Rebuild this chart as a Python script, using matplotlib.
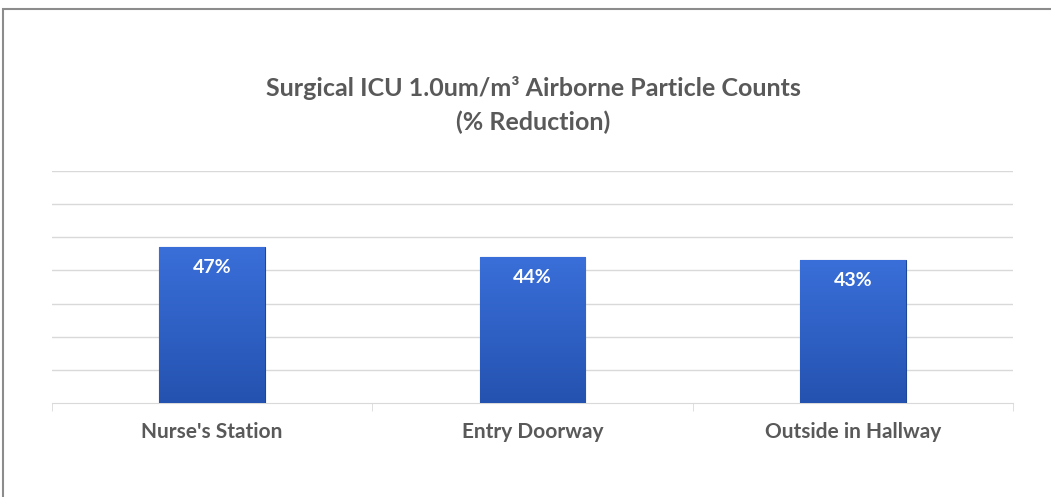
import numpy as np
import matplotlib.pyplot as plt
from matplotlib.colors import LinearSegmentedColormap
from matplotlib.patches import Rectangle

# values
locations = ["Nurse's Station", "Entry Doorway", "Outside in Hallway"]
reduction = [47, 44, 43]
bar_labels = ["47%", "44%", "43%"]

plt.rcParams['font.family'] = ['Lato', 'DejaVu Sans']

fig = plt.figure(figsize=(10.51, 4.97), dpi=100)
fig.patch.set_facecolor("white")

# outer chart frame
fig.add_artist(Rectangle((3 / 1051, -0.1), 1.2, 1 - 9 / 497 + 0.1,
                         transform=fig.transFigure, fill=False,
                         edgecolor="#8c8c8c", linewidth=1.5))

ax = fig.add_axes([52 / 1051, 1 - 403 / 497, (1013 - 52) / 1051, (403 - 171) / 497])
x = np.arange(len(locations))
bars = ax.bar(x, reduction, width=0.33, color="#2f62c8",
              edgecolor="#1e4596", linewidth=0.8, zorder=3)

# vertical gradient inside each bar
grad = LinearSegmentedColormap.from_list("bar", ["#2452b0", "#3a6fd9"])
img = np.linspace(0, 1, 256).reshape(-1, 1)
for b in bars:
    x0, w, h = b.get_x(), b.get_width(), b.get_height()
    im = ax.imshow(img, cmap=grad, origin="lower", aspect="auto",
                   extent=[x0, x0 + w, 0, h], zorder=3.5)
    im.set_clip_path(b)

for xi, v, lab in zip(x, reduction, bar_labels):
    ax.annotate(lab, (xi, v), xytext=(0, -20), textcoords="offset pixels",
                ha="center", va="center", color="white", fontsize=14,
                fontweight="bold", zorder=5)

ax.set_xlim(-0.5, 2.5)
ax.set_ylim(0, 70)
ax.set_yticks(np.arange(10, 71, 10))
ax.yaxis.grid(True, color="#d9d9d9", linewidth=1, zorder=0)
ax.tick_params(axis="y", left=False, labelleft=False)
ax.set_xticks(x)
ax.set_xticklabels(locations, fontsize=15, fontweight="bold", color="#595959")
ax.tick_params(axis="x", length=0, pad=14)
ax.set_xticks([-0.5, 0.5, 1.5, 2.5], minor=True)
ax.tick_params(axis="x", which="minor", length=6, color="#d9d9d9")
for s in ["left", "right", "top"]:
    ax.spines[s].set_visible(False)
ax.spines["bottom"].set_color("#d9d9d9")
ax.set_facecolor("none")

fig.text(533 / 1051, 1 - 88 / 497, "Surgical ICU 1.0um/m\u00b3 Airborne Particle Counts",
         ha="center", va="center", fontsize=18, fontweight="bold", color="#595959")
fig.text(533 / 1051, 1 - 122 / 497, "(% Reduction)",
         ha="center", va="center", fontsize=18, fontweight="bold", color="#595959")

fig.savefig("out.png", dpi=100)
